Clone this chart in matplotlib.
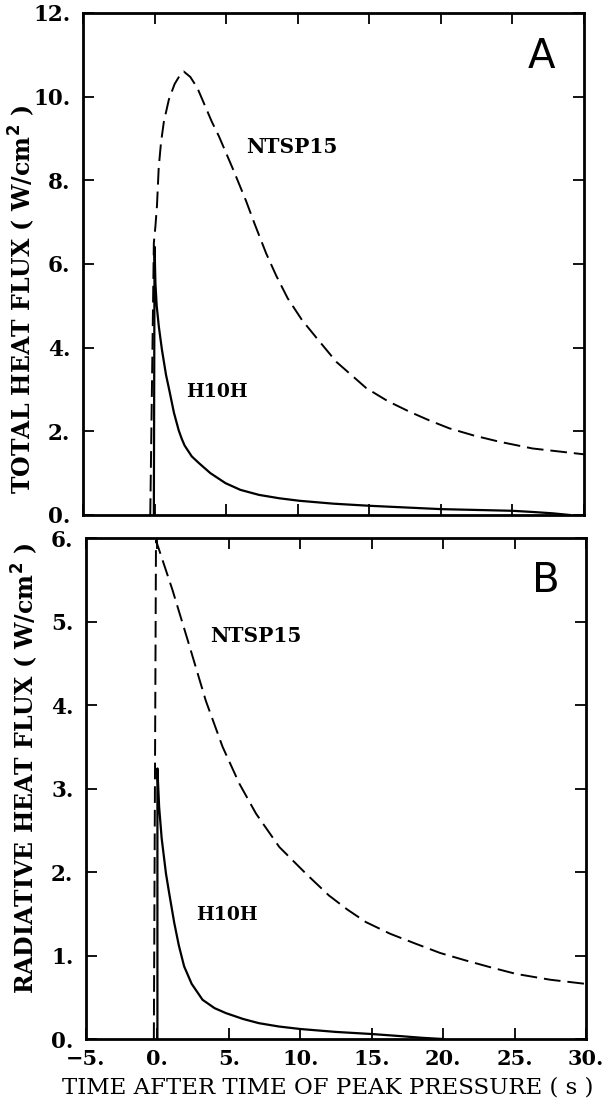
import matplotlib
matplotlib.use('Agg')
import matplotlib.pyplot as plt

# Panel A: total heat flux (W/cm^2)
ntsp_total_t = [-0.3, -0.05, 0.06, 0.17, 0.29, 0.45, 0.65, 1.0, 1.4, 1.75, 2.04, 2.5, 3.0,
                3.5, 4.0, 4.5, 5.5, 6.4, 7.0, 7.8, 8.5, 9.3, 10.3, 11.3, 12.7, 14.8, 16.3,
                17.8, 19.2, 20.6, 22.3, 24.1, 26.4, 28.2, 30.0]
ntsp_total_q = [0.0, 6.5, 6.9, 7.4, 8.3, 8.9, 9.4, 9.93, 10.3, 10.5, 10.6, 10.47, 10.2,
                9.8, 9.4, 9.05, 8.25, 7.5, 6.95, 6.25, 5.72, 5.18, 4.66, 4.24, 3.66, 3.03, 2.72,
                2.47, 2.26, 2.07, 1.9, 1.75, 1.59, 1.52, 1.45]
h10h_total_t = [-0.05, 0.0, 0.06, 0.15, 0.3, 0.52, 0.8, 1.05, 1.35, 1.69, 1.9, 2.1, 2.6,
                3.1, 3.9, 4.96, 6.0, 7.3, 8.7, 10.1, 12.5, 15.0, 17.5, 20.0, 22.5, 25.0,
                26.5, 27.8, 29.0]
h10h_total_q = [0.0, 6.41, 5.54, 5.0, 4.5, 3.94, 3.35, 2.95, 2.45, 2.02, 1.82, 1.66, 1.4,
                1.24, 1.0, 0.76, 0.6, 0.48, 0.4, 0.34, 0.27, 0.22, 0.18, 0.14, 0.12, 0.1,
                0.07, 0.04, 0.0]

# Panel B: radiative heat flux (W/cm^2)
ntsp_rad_t = [-0.25, -0.1, 0.0, 1.05, 2.22, 3.39, 4.56, 5.73, 6.9, 8.53, 10.4, 12.0, 13.3,
              14.6, 16.3, 18.1, 19.8, 21.6, 23.3, 25.1, 27.5, 30.0]
ntsp_rad_q = [0.0, 5.97, 5.92, 5.38, 4.72, 4.05, 3.5, 3.06, 2.7, 2.3, 1.98, 1.72, 1.55,
              1.4, 1.26, 1.14, 1.03, 0.94, 0.86, 0.78, 0.71, 0.66]
h10h_rad_t = [0.0, 0.0, 0.12, 0.3, 0.6, 0.82, 1.18, 1.5, 1.87, 2.4, 3.16, 4.0, 4.8, 6.0,
              7.1, 8.5, 10.0, 12.5, 15.0, 17.0, 18.5, 20.0]
h10h_rad_q = [0.0, 3.24, 2.78, 2.4, 1.98, 1.75, 1.39, 1.12, 0.87, 0.66, 0.47, 0.37, 0.31,
              0.24, 0.19, 0.15, 0.12, 0.085, 0.06, 0.035, 0.015, 0.0]

x_ticks = [-5, 0, 5, 10, 15, 20, 25, 30]
x_ticklabels = ['\u22125.', '0.', '5.', '10.', '15.', '20.', '25.', '30.']

serif = 'DejaVu Serif'
lw = 1.4
dash = (12 / lw, 5 / lw)

fig = plt.figure(figsize=(6.12, 11.07), dpi=100)
axA = fig.add_axes([0.1356, 0.5348, 0.8186, 0.4535])
axB = fig.add_axes([0.1405, 0.0614, 0.8170, 0.4526])

panels = [
    (axA, ntsp_total_t, ntsp_total_q, h10h_total_t, h10h_total_q, 12, [0, 2, 4, 6, 8, 10, 12],
     'TOTAL HEAT FLUX ( W/cm$^{\\mathbf{2}}$ )', 'A', (6.4, 8.8), (2.2, 2.95), (27.0, 10.95), 0.43),
    (axB, ntsp_rad_t, ntsp_rad_q, h10h_rad_t, h10h_rad_q, 6, [0, 1, 2, 3, 4, 5, 6],
     'RADIATIVE HEAT FLUX ( W/cm$^{\\mathbf{2}}$ )', 'B', (3.7, 4.83), (2.7, 1.49), (27.2, 5.49), 0.54),
]

for ax, nt, nq, ht, hq, ymax, yt, ylab, letter, npos, hpos, lpos, ylab_y in panels:
    ax.plot(nt, nq, color='black', lw=lw, dashes=dash)
    ax.plot(ht, hq, color='black', lw=lw + 0.2)
    ax.set_xlim(-5, 30)
    ax.set_ylim(0, ymax)
    ax.set_xticks(x_ticks)
    ax.set_yticks(yt)
    ax.set_yticklabels(['%d.' % v for v in yt], fontsize=15.5, fontweight='bold', family=serif)
    ax.tick_params(direction='in', length=8, width=1.3, top=True, right=True, pad=9)
    for s in ax.spines.values():
        s.set_linewidth(2.0)
    ax.set_ylabel(ylab, fontsize=17, fontweight='bold', family=serif)
    ax.yaxis.set_label_coords(-0.092, ylab_y)
    ax.text(npos[0], npos[1], 'NTSP15', fontsize=14.5, fontweight='bold', family=serif,
            ha='left', va='center')
    ax.text(hpos[0], hpos[1], 'H10H', fontsize=13.5, fontweight='bold', family=serif,
            ha='left', va='center')
    ax.text(lpos[0], lpos[1], letter, fontsize=29, family=['Liberation Sans Narrow', 'DejaVu Sans'],
            ha='center', va='center')

axA.set_xticklabels([])
axB.set_xticklabels(x_ticklabels, fontsize=15, fontweight='bold', family=serif)
axB.tick_params(axis='x', pad=7)
fig.text(0.535, 0.008, 'TIME AFTER TIME OF PEAK PRESSURE ( s )', fontsize=16.5,
         family=serif, ha='center', va='bottom')

fig.savefig('out.png', dpi=100)
